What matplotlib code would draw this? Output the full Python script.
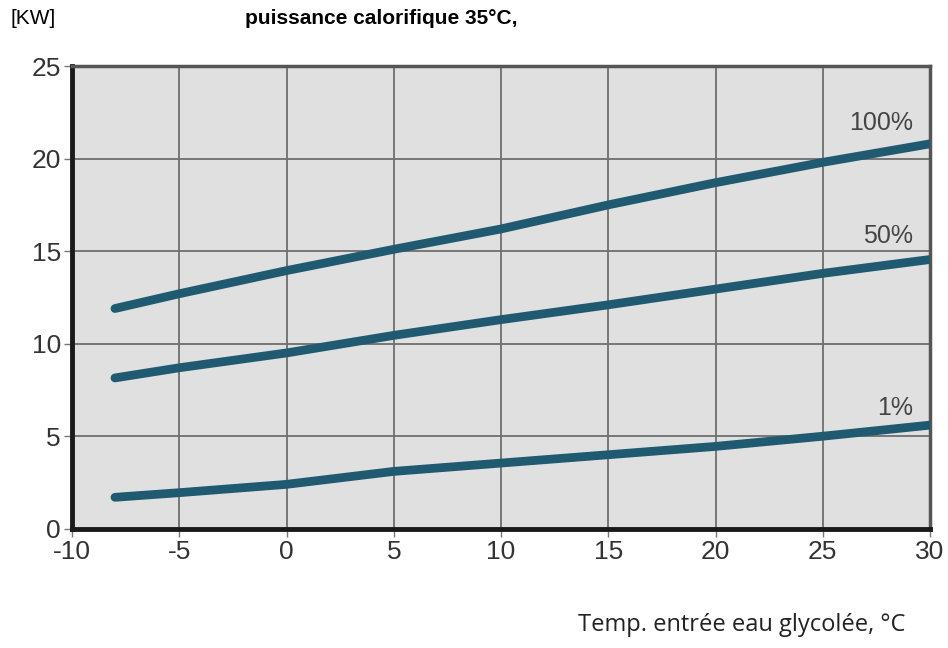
import matplotlib
matplotlib.use('Agg')
import matplotlib.pyplot as plt

plt.rcParams['axes.unicode_minus'] = False

# temperature points (°C) and heating power (kW) for each load level
temp = [-8, -5, 0, 5, 10, 15, 20, 25, 30]
p100 = [11.9, 12.7, 13.95, 15.1, 16.2, 17.5, 18.7, 19.8, 20.8]
p50 = [8.15, 8.7, 9.5, 10.45, 11.3, 12.1, 12.95, 13.8, 14.55]
p1 = [1.7, 1.95, 2.4, 3.1, 3.55, 4.0, 4.45, 5.0, 5.6]
labels = ['100%', '50%', '1%']
label_y = [21.9, 15.8, 6.5]
xticks = [-10, -5, 0, 5, 10, 15, 20, 25, 30]
yticks = [0, 5, 10, 15, 20, 25]

line_col = '#1f5a70'

fig = plt.figure(figsize=(9.48, 6.48), dpi=100)
ax = fig.add_axes([0.076, 0.184, 0.905, 0.714])
ax.set_facecolor('#e0e0e0')

for series in [p100, p50, p1]:
    ax.plot(temp, series, color=line_col, lw=6.3, solid_capstyle='round', zorder=3)

for lab, ly in zip(labels, label_y):
    ax.text(29.2, ly, lab, ha='right', va='center', fontsize=18, color='#444444', family='Liberation Sans')

ax.set_xlim(-10, 30)
ax.set_ylim(0, 25)
ax.set_xticks(xticks)
ax.set_xticklabels([str(t) for t in xticks])
ax.set_yticks(yticks)
ax.set_yticklabels([str(t) for t in yticks])
ax.grid(True, color='#6e6e6e', lw=1.3)
ax.set_axisbelow(True)
ax.tick_params(direction='out', length=6, width=1, color='#777777', labelcolor='#333333', labelsize=19, pad=2)
for lab in ax.get_xticklabels() + ax.get_yticklabels():
    lab.set_family('Liberation Sans')

ax.spines['left'].set_linewidth(3.5)
ax.spines['bottom'].set_linewidth(3.5)
ax.spines['left'].set_color('#1a1a1a')
ax.spines['bottom'].set_color('#1a1a1a')
ax.spines['top'].set_linewidth(2.5)
ax.spines['right'].set_linewidth(2.5)
ax.spines['top'].set_color('#555555')
ax.spines['right'].set_color('#555555')

fig.text(0.011, 0.972, '[KW]', fontsize=15, family='Liberation Sans', va='center')
fig.text(0.258, 0.972, 'puissance calorifique 35°C,', fontsize=15, weight='bold', family='Liberation Sans', va='center')
fig.text(0.955, 0.017, 'Temp. entrée eau glycolée, °C', fontsize=17, family='Open Sans', ha='right', va='bottom', color='#222222')

fig.savefig('out.png', dpi=100)
